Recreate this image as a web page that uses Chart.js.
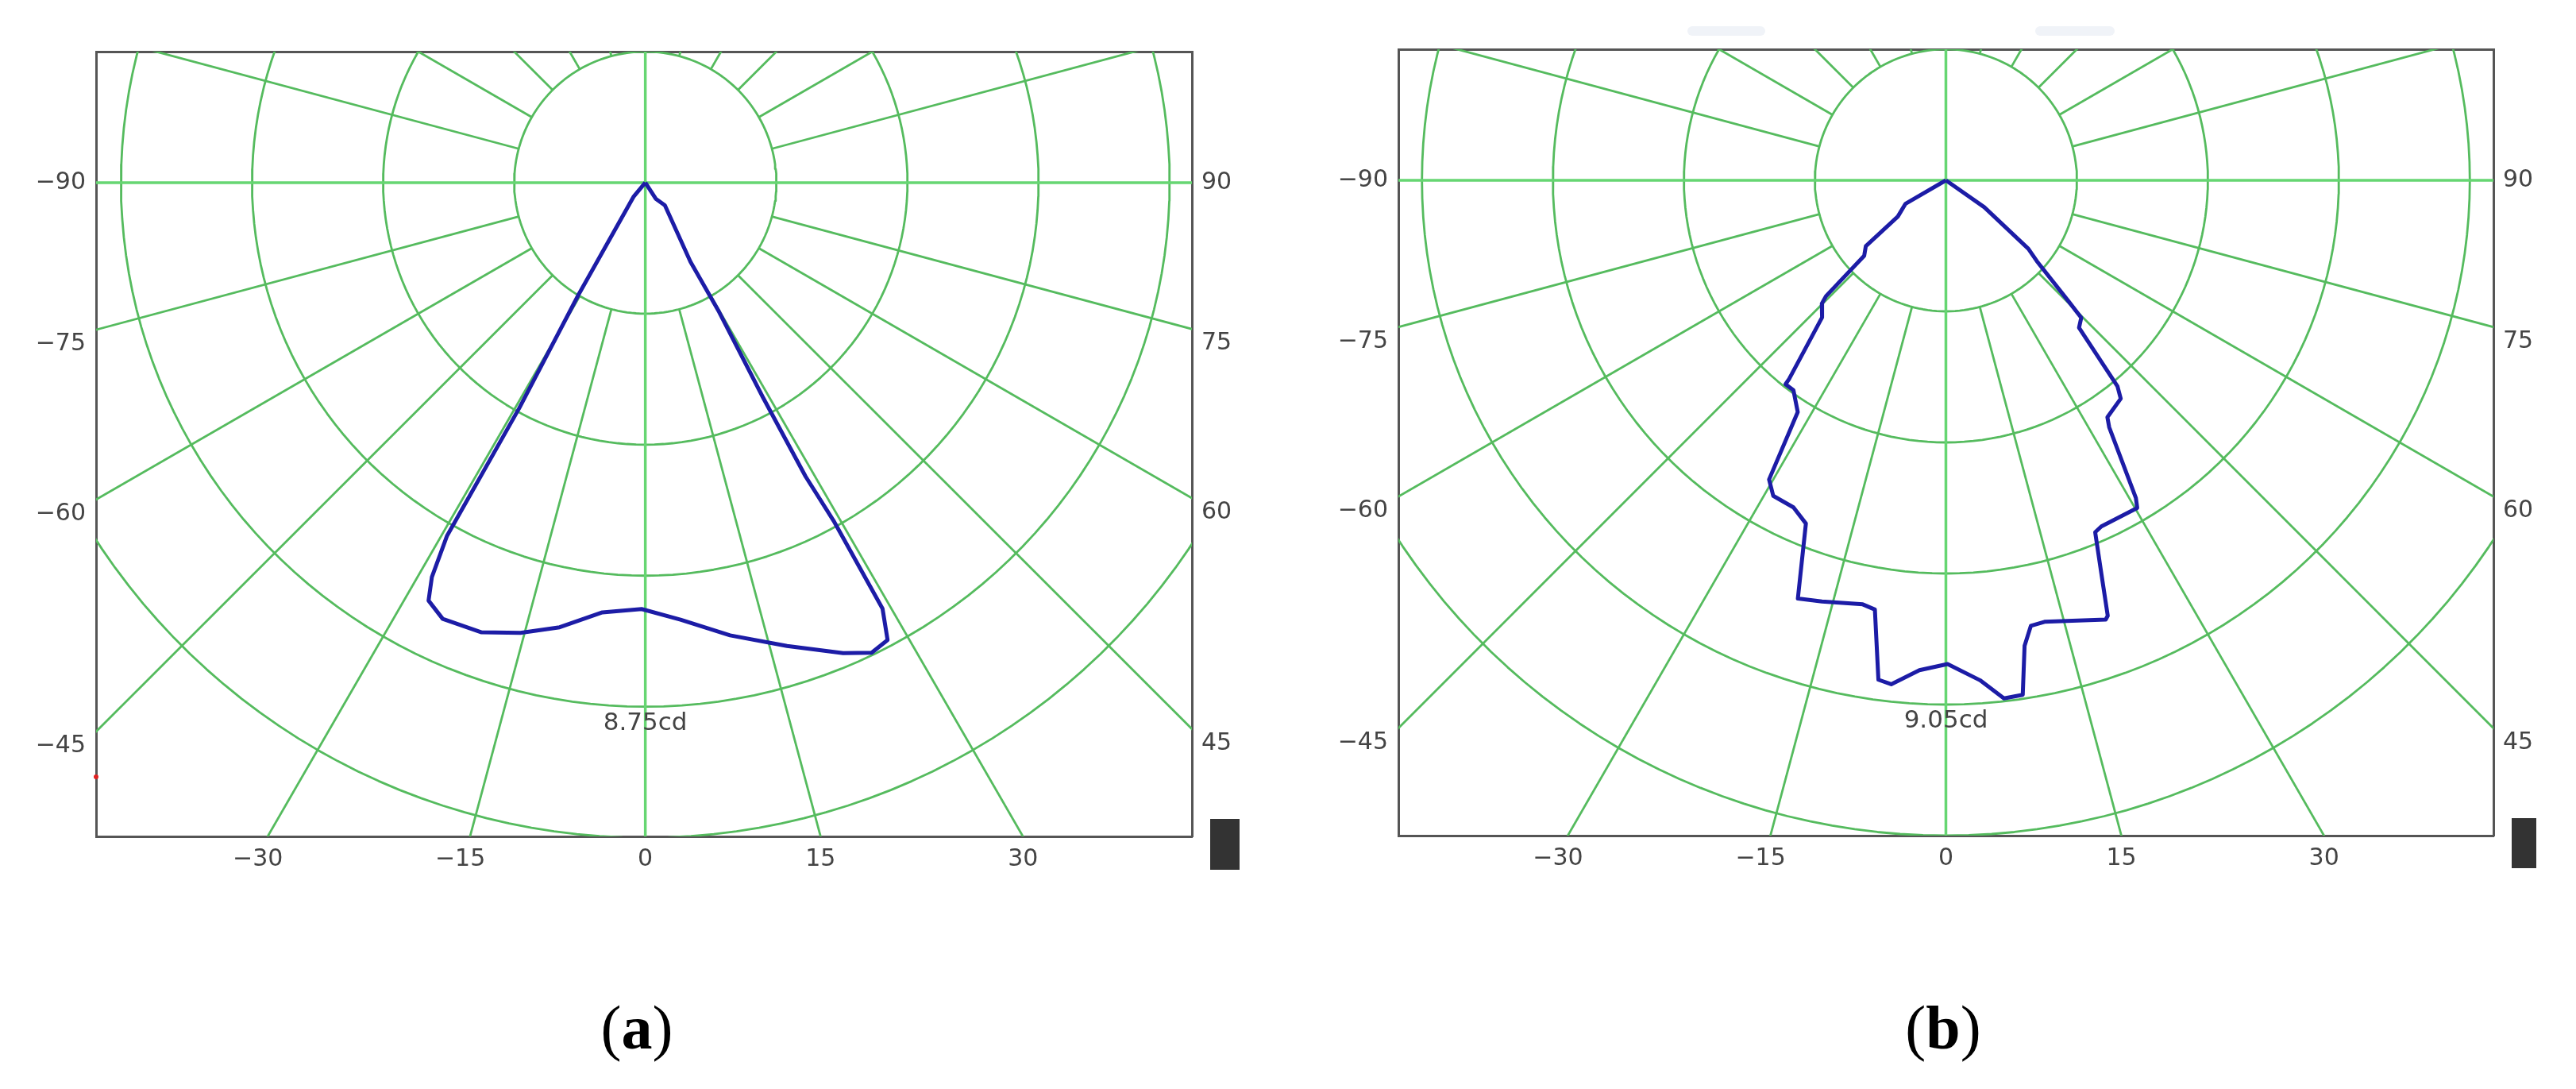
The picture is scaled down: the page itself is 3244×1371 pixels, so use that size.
<!DOCTYPE html>
<html>
<head>
<meta charset="utf-8">
<script src="https://cdn.jsdelivr.net/npm/chart.js@4.4.1/dist/chart.umd.min.js"></script>
<style>
  body { margin: 0; width: 3244px; height: 1371px; background: #fff; position: relative; overflow: hidden; }
  canvas { position: absolute; top: 0; }
  #chartA { left: 0; }
  #chartB { left: 1640px; }
  .cap { position: absolute; top: 1255px; width: 200px; text-align: center; font-family: 'Liberation Serif', serif; font-size: 78px; line-height: 1; color: #000; }
  .bar { position: absolute; background: #333; }
  .smudge { position: absolute; top: 33px; height: 12px; background: #f0f3f8; border-radius: 6px; }
</style>
</head>
<body>
<canvas id="chartA" width="1600" height="1140"></canvas>
<canvas id="chartB" width="1556" height="1140"></canvas>
<div class="cap" style="left:702px">(<b>a</b>)</div>
<div class="cap" style="left:2347px">(<b>b</b>)</div>
<div class="bar" style="left:1524px;top:1031px;width:37px;height:64px"></div>
<div class="bar" style="left:3163px;top:1030px;width:31px;height:63px"></div>
<div class="smudge" style="left:2125px;width:98px"></div>
<div class="smudge" style="left:2563px;width:100px"></div>
<div style="position:absolute;left:118px;top:975px;width:6px;height:6px;border-radius:3px;background:#e02020"></div>
<script>
// peak intensity printed under the 4th ring
const peakA = 8.75;
const peakB = 9.05;

// curve (a): angle from nadir (deg) and intensity (cd), in drawing order
const anglesA = [0, -40, -30.8, -29.2, -29.3, -28.4, -27.4, -24.9, -20.0, -15.5, -10.9, -5.7, -0.5, 4.6, 10.6, 17.0, 22.8, 25.7, 27.9, 29.1, 29.1, 28.6, 28.7, 29.7, 29.7, 40.8, 33.0, 0];
const candelaA = [0, 0.30, 2.17, 4.31, 6.76, 7.49, 7.86, 8.03, 7.99, 7.80, 7.56, 7.21, 7.12, 7.32, 7.69, 8.09, 8.52, 8.71, 8.64, 8.14, 6.46, 5.59, 4.08, 2.49, 1.52, 0.50, 0.32, 0];

// curve (b)
const anglesB = [0, -59.8, -53, -50.6, -47.3, -46.0, -45.2, -42.1, -38.3, -38.2, -36.0, -32.6, -30.6, -28.7, -25.0, -22.2, -19.5, -16.4, -11.1, -9.4, -7.7, -6.2, -3.1, 0.2, 3.9, 6.4, 8.5, 9.6, 10.8, 12.6, 20.0, 20.4, 21.6, 23.0, 24.2, 30.3, 30.9, 33.5, 34.3, 38.7, 39.8, 42.1, 44.6, 45.4, 48.4, 50.3, 55, 0];
const candelaB = [0, 0.81, 1.04, 1.79, 1.92, 2.88, 3.02, 3.19, 4.37, 4.48, 4.48, 4.75, 6.00, 6.21, 6.23, 6.40, 7.66, 7.58, 7.46, 7.51, 8.70, 8.75, 8.47, 8.35, 8.65, 9.00, 8.98, 8.15, 7.83, 7.81, 8.07, 8.02, 7.29, 6.60, 6.55, 6.55, 6.39, 5.11, 4.95, 4.83, 4.63, 3.43, 3.33, 2.98, 2.10, 1.85, 0.81, 0];

// grid and tick angles
const leftAngles = [-90, -75, -60, -45];
const rightAngles = [90, 75, 60, 45];
const bottomAngles = [-30, -15, 0, 15, 30];
const rings = [1, 2, 3, 4, 5];
const spokeAngles = [-165, -150, -135, -120, -105, -75, -60, -45, -30, -15, 15, 30, 45, 60, 75, 105, 120, 135, 150, 165];

Chart.defaults.font.family = 'DejaVu Sans';
Chart.defaults.font.size = 30;
Chart.defaults.color = '#444';

const rad = d => d * Math.PI / 180;
const polar = (deg, r) => ({ x: r * Math.sin(rad(deg)), y: -r * Math.cos(rad(deg)) });
const fmt = a => a < 0 ? '\u2212' + (-a) : String(a);
const line = (data, color, width) => ({ data, borderColor: color, borderWidth: width, showLine: true, pointRadius: 0, tension: 0, fill: false, borderJoinStyle: 'round' });

const peakLabel = {
  id: 'peakLabel',
  afterDatasetsDraw(chart, args, opts) {
    const { ctx, scales: { x, y } } = chart;
    ctx.save();
    ctx.font = '31px "DejaVu Sans"';
    ctx.fillStyle = '#444';
    ctx.textAlign = 'center';
    ctx.textBaseline = 'middle';
    ctx.fillText(opts.text, x.getPixelForValue(0), y.getPixelForValue(-4 * opts.step) + 21);
    ctx.restore();
  }
};

function makeChart(id, angles, candela, peak, frame, box) {
  const step = peak / 4;
  const L = frame.left * step, R = frame.right * step, T = frame.top * step, B = frame.bottom * step;
  const drop = 0.11 * step, minusShift = 0.075 * step;
  const grid = '#55bb5e', axis = '#66d672';

  const sets = [line(angles.map((a, i) => polar(a, candela[i])), '#1c1ca6', 5)];
  sets.push(line([{ x: -L - step, y: 0 }, { x: R + step, y: 0 }], axis, 3.5));
  sets.push(line([{ x: 0, y: T + step }, { x: 0, y: -B - step }], axis, 3.5));
  rings.forEach(k => {
    const pts = [];
    for (let d = 0; d <= 360; d += 2) pts.push(polar(d, k * step));
    sets.push(line(pts, grid, 2.8));
  });
  spokeAngles.forEach(a => sets.push(line([polar(a, step), polar(a, 9 * step)], grid, 2.8)));

  const spokeHit = (a, side) => Math.abs(a) === 90 ? 0 : -side / Math.tan(rad(Math.abs(a))) - drop;
  const frameBorder = { color: '#555', width: 3 };
  const noGrid = { display: false, drawTicks: false };

  new Chart(document.getElementById(id), {
    type: 'scatter',
    data: { datasets: sets },
    options: {
      responsive: false,
      animation: false,
      events: [],
      layout: { padding: 0 },
      plugins: { legend: { display: false }, tooltip: { enabled: false }, peakLabel: { text: peak.toFixed(2) + 'cd', step } },
      scales: {
        x: {
          type: 'linear', min: -L, max: R, grid: noGrid, border: frameBorder,
          ticks: { autoSkip: false, maxRotation: 0, padding: 11, callback: (v, i) => fmt(bottomAngles[i]) },
          afterBuildTicks: s => { s.ticks = bottomAngles.map(a => ({ value: B * Math.tan(rad(a)) - (a < 0 ? minusShift : 0) })); },
          afterFit: s => { s.height = box.bottom; }
        },
        xTop: {
          type: 'linear', position: 'top', min: -L, max: R, grid: noGrid, border: frameBorder,
          ticks: { display: false },
          afterFit: s => { s.height = box.top; }
        },
        y: {
          type: 'linear', min: -B, max: T, grid: noGrid, border: frameBorder,
          ticks: { autoSkip: false, padding: 13, callback: (v, i) => fmt(leftAngles[i]) },
          afterBuildTicks: s => { s.ticks = leftAngles.map(a => ({ value: spokeHit(a, L) })); },
          afterFit: s => { s.width = box.left; }
        },
        yRight: {
          type: 'linear', position: 'right', min: -B, max: T, grid: noGrid, border: frameBorder,
          ticks: { autoSkip: false, padding: 12, callback: (v, i) => fmt(rightAngles[i]) },
          afterBuildTicks: s => { s.ticks = rightAngles.map(a => ({ value: spokeHit(a, R) })); },
          afterFit: s => { s.width = box.right; }
        }
      }
    },
    plugins: [peakLabel]
  });
}

makeChart('chartA', anglesA, candelaA, peakA, { left: 4.19, right: 4.17, top: 1.0, bottom: 4.99 }, { left: 121, right: 99, top: 65, bottom: 87 });
makeChart('chartB', anglesB, candelaB, peakB, { left: 4.18, right: 4.18, top: 1.0, bottom: 5.0 }, { left: 121, right: 56, top: 62, bottom: 88 });
</script>
</body>
</html>
